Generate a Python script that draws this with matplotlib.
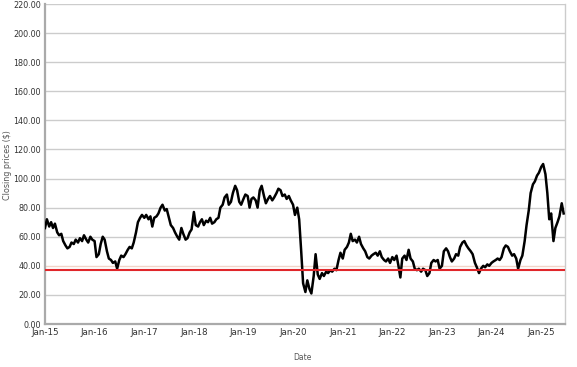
import matplotlib
matplotlib.use("Agg")
import matplotlib.pyplot as plt
import pandas as pd

# semi-monthly closing prices, Jan 2015 .. Jun 2025 (two readings per month)
prices_2015 = [66, 72, 67, 70, 66, 69, 63, 61, 62, 57, 54, 52, 53, 56, 55, 58, 56, 59, 57, 61, 58, 56, 60, 58]
prices_2016 = [57, 46, 48, 55, 60, 58, 50, 45, 44, 42, 43, 38, 44, 47, 46, 48, 51, 53, 52, 56, 63, 70, 73, 75]
prices_2017 = [73, 75, 72, 74, 67, 73, 74, 76, 80, 82, 78, 79, 73, 68, 66, 63, 60, 58, 66, 62, 58, 59, 63, 65]
prices_2018 = [77, 68, 67, 70, 72, 68, 71, 70, 73, 69, 70, 72, 73, 80, 82, 87, 89, 82, 84, 90, 95, 92, 84, 82]
prices_2019 = [86, 89, 88, 80, 86, 87, 85, 80, 92, 95, 88, 83, 86, 88, 85, 87, 90, 93, 92, 88, 89, 86, 88, 85]
prices_2020 = [82, 75, 80, 72, 50, 28, 22, 30, 24, 21, 33, 48, 34, 31, 35, 33, 36, 35, 37, 36, 38, 37, 44, 49]
prices_2021 = [45, 51, 53, 56, 62, 57, 58, 56, 60, 55, 52, 50, 46, 45, 47, 48, 49, 47, 50, 46, 44, 43, 45, 42]
prices_2022 = [46, 44, 47, 40, 32, 45, 47, 44, 51, 45, 43, 38, 37, 38, 36, 38, 37, 33, 35, 42, 44, 43, 44, 38]
prices_2023 = [40, 50, 52, 50, 46, 43, 45, 48, 47, 53, 56, 57, 54, 52, 50, 48, 42, 39, 35, 38, 40, 39, 41, 40]
prices_2024 = [42, 43, 44, 45, 44, 46, 52, 54, 53, 50, 47, 48, 45, 38, 44, 47, 57, 68, 78, 90, 96, 98, 102, 104]
prices_2025 = [108, 110, 103, 90, 72, 76, 57, 66, 70, 74, 83, 76]

values = (prices_2015 + prices_2016 + prices_2017 + prices_2018 + prices_2019 + prices_2020
          + prices_2021 + prices_2022 + prices_2023 + prices_2024 + prices_2025)
dates = pd.date_range("2015-01-01", periods=len(values), freq="SMS")

threshold = 37
y_ticks = [0, 20, 40, 60, 80, 100, 120, 140, 160, 180, 200, 220]
x_tick_labels = ["Jan-15", "Jan-16", "Jan-17", "Jan-18", "Jan-19", "Jan-20",
                 "Jan-21", "Jan-22", "Jan-23", "Jan-24", "Jan-25"]
x_tick_dates = pd.to_datetime(["2015-01-01", "2016-01-01", "2017-01-01", "2018-01-01",
                               "2019-01-01", "2020-01-01", "2021-01-01", "2022-01-01",
                               "2023-01-01", "2024-01-01", "2025-01-01"])

fig = plt.figure(figsize=(5.77, 3.67), dpi=100)
ax = fig.add_axes([45/577, 1-324/367, 520/577, 320/367])

for t in y_ticks[1:]:
    col = "#f2d4c8" if t == 40 else "#cccccc"
    ax.axhline(t, color=col, lw=1.0, zorder=1)

ax.plot(dates, values, color="black", lw=1.8, zorder=3)
ax.axhline(threshold, color="#e0262a", lw=1.5, zorder=4)

ax.set_ylim(0, 220)
ax.set_xlim(pd.Timestamp("2015-01-01"), pd.Timestamp("2025-06-25"))
ax.set_yticks(y_ticks)
ax.set_yticklabels([f"{t:.2f}" for t in y_ticks])
ax.set_xticks(x_tick_dates)
ax.set_xticklabels(x_tick_labels)
ax.tick_params(axis="both", length=0, colors="#333333")
ax.tick_params(axis="y", pad=3, labelsize=5.8)
ax.tick_params(axis="x", pad=3, labelsize=6.3)

for s in ["left", "bottom"]:
    ax.spines[s].set_color("#aaaaaa")
    ax.spines[s].set_linewidth(1.6)
ax.spines["right"].set_color("#cccccc")
ax.spines["right"].set_linewidth(1.0)
ax.spines["top"].set_visible(False)

fig.text(302/577, 1-358/367, "Date", fontsize=5.5, color="#555555", ha="center", va="center")
fig.text(8/577, 1-165/367, "Closing prices ($)", fontsize=5.8, color="#555555",
         ha="center", va="center", rotation=90)

fig.savefig("out.png", dpi=100)
